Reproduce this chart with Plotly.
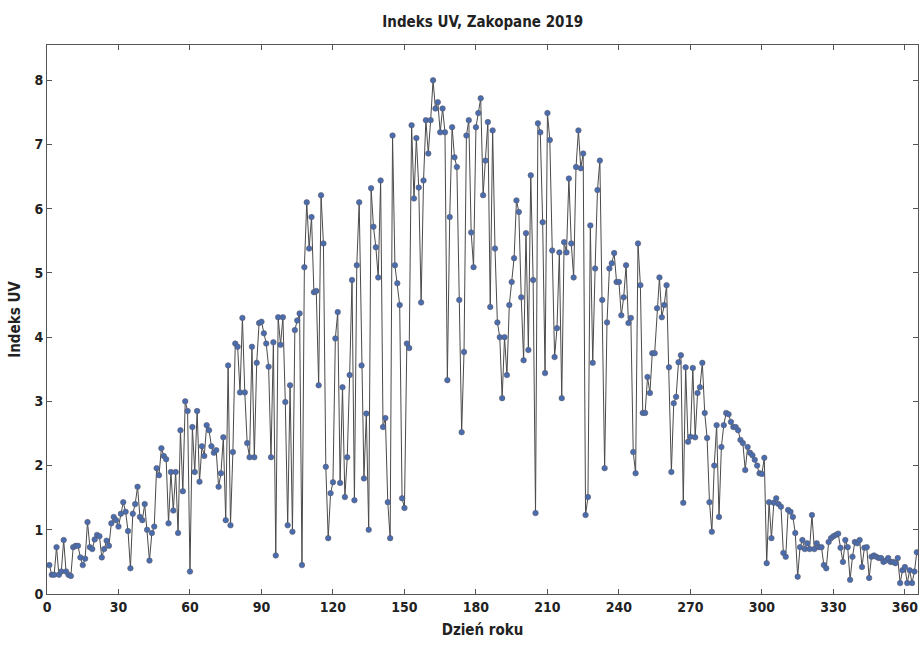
import plotly.graph_objects as go

days = list(range(1, 366))

uv_jan_feb = [
    0.45, 0.30, 0.30, 0.73, 0.30, 0.35, 0.84, 0.35, 0.30, 0.28,
    0.73, 0.75, 0.75, 0.57, 0.45, 0.55, 1.12, 0.73, 0.70, 0.85,
    0.92, 0.90, 0.57, 0.70, 0.83, 0.75, 1.10, 1.20, 1.15, 1.05,
    1.25, 1.43, 1.28, 0.98, 0.40, 1.25, 1.40, 1.67, 1.20, 1.15,
    1.40, 1.00, 0.52, 0.95, 1.05, 1.96, 1.85, 2.27, 2.15, 2.10,
    1.10, 1.90, 1.30, 1.90, 0.95, 2.55, 1.60, 3.00, 2.85, 0.35,
]
uv_mar_apr = [
    2.60, 1.90, 2.85, 1.75, 2.30, 2.15, 2.63, 2.55, 2.30, 2.20,
    2.24, 1.67, 1.88, 2.44, 1.15, 3.56, 1.07, 2.21, 3.90, 3.85,
    3.14, 4.30, 3.14, 2.35, 2.13, 3.85, 2.13, 3.60, 4.22, 4.24,
    4.06, 3.90, 3.54, 2.13, 3.92, 0.60, 4.31, 3.88, 4.31, 2.99,
    1.07, 3.25, 0.97, 4.11, 4.26, 4.37, 0.45, 5.09, 6.10, 5.38,
    5.87, 4.70, 4.72, 3.25, 6.21, 5.46, 1.98, 0.87, 1.57, 1.74,
]
uv_may_jun = [
    3.98, 4.39, 1.73, 3.22, 1.51, 2.13, 3.41, 4.89, 1.46, 5.12,
    6.10, 3.56, 1.80, 2.81, 1.00, 6.32, 5.72, 5.40, 4.93, 6.44,
    2.60, 2.74, 1.43, 0.87, 7.14, 5.12, 4.84, 4.50, 1.49, 1.34,
    3.90, 3.83, 7.30, 6.16, 7.10, 6.33, 4.54, 6.44, 7.38, 6.86,
    7.38, 8.00, 7.56, 7.66, 7.19, 7.56, 7.19, 3.33, 5.87, 7.27,
    6.80, 6.65, 4.58, 2.52, 3.77, 7.14, 7.38, 5.63, 5.09, 7.27,
]
uv_jul_aug = [
    7.49, 7.72, 6.21, 6.75, 7.35, 4.47, 7.22, 5.38, 4.23, 4.00,
    3.05, 4.00, 3.41, 4.50, 4.86, 5.23, 6.13, 5.95, 4.62, 3.64,
    5.62, 3.80, 6.52, 4.89, 1.26, 7.33, 7.19, 5.79, 3.44, 7.49,
    7.07, 5.35, 3.69, 4.14, 5.32, 3.05, 5.48, 5.32, 6.47, 5.46,
    4.93, 6.65, 7.22, 6.63, 6.86, 1.23, 1.51, 5.74, 3.60, 5.07,
    6.29, 6.75, 4.58, 1.96, 4.23, 5.07, 5.15, 5.31, 4.86, 4.86,
]
uv_sep_oct = [
    4.34, 4.62, 5.12, 4.22, 4.30, 2.21, 1.88, 5.46, 4.81, 2.82,
    2.82, 3.38, 3.13, 3.75, 3.75, 4.45, 4.93, 4.31, 4.50, 4.81,
    3.53, 1.90, 2.97, 3.07, 3.61, 3.72, 1.42, 3.53, 2.37, 2.45,
    3.52, 2.44, 3.13, 3.22, 3.60, 2.82, 2.43, 1.43, 0.97, 2.00,
    2.63, 1.20, 2.29, 2.63, 2.82, 2.80, 2.68, 2.60, 2.60, 2.55,
    2.40, 2.35, 1.93, 2.29, 2.20, 2.16, 2.09, 2.00, 1.88, 1.87,
]
uv_nov_dec = [
    2.12, 0.48, 1.43, 0.87, 1.42, 1.49, 1.40, 1.36, 0.64, 0.58,
    1.31, 1.28, 1.20, 0.95, 0.27, 0.73, 0.84, 0.70, 0.79, 0.70,
    1.23, 0.70, 0.79, 0.73, 0.73, 0.45, 0.40, 0.81, 0.87, 0.90,
    0.92, 0.94, 0.72, 0.50, 0.84, 0.73, 0.22, 0.58, 0.81, 0.79,
    0.84, 0.42, 0.72, 0.73, 0.25, 0.58, 0.60, 0.58, 0.56, 0.56,
    0.50, 0.52, 0.56, 0.50, 0.50, 0.48, 0.56, 0.17, 0.37, 0.42,
    0.17, 0.37, 0.17, 0.35, 0.65,
]
uv = uv_jan_feb + uv_mar_apr + uv_may_jun + uv_jul_aug + uv_sep_oct + uv_nov_dec

x_ticks = list(range(0, 361, 30))
y_ticks = list(range(0, 9))

FONT = "Liberation Sans Narrow, DejaVu Sans Condensed, Arial Narrow, sans-serif"

fig = go.Figure()
fig.add_trace(go.Scatter(
    x=days, y=uv, mode="lines+markers",
    line=dict(color="#4a4a4a", width=1),
    marker=dict(size=5.5, color="#4a6db0", line=dict(color="#5a5a6a", width=0.6)),
    showlegend=False,
))

axis_common = dict(
    showline=True, mirror="ticks", linecolor="#555555", linewidth=1,
    ticks="inside", ticklen=5, tickcolor="#555555",
    showgrid=False, zeroline=False,
    tickfont=dict(family=FONT, size=14, color="#222222", weight="bold"),
)

fig.update_layout(
    width=922, height=667,
    margin=dict(l=47, r=4, t=45, b=73),
    paper_bgcolor="white", plot_bgcolor="white",
    title=dict(text="Indeks UV, Zakopane 2019", x=0.5236, xanchor="center",
               y=0.968, yanchor="middle",
               font=dict(family=FONT, size=15, color="#222222", weight="bold")),
    xaxis=dict(range=[0, 365.5], tickvals=x_ticks,
               title=dict(text="Dzień roku", standoff=10,
                          font=dict(family=FONT, size=15, color="#222222", weight="bold")),
               **axis_common),
    yaxis=dict(range=[0, 8.55], tickvals=y_ticks,
               title=dict(text="Indeks UV", standoff=10,
                          font=dict(family=FONT, size=15, color="#222222", weight="bold")),
               **axis_common),
)

fig.write_html("out.html")
